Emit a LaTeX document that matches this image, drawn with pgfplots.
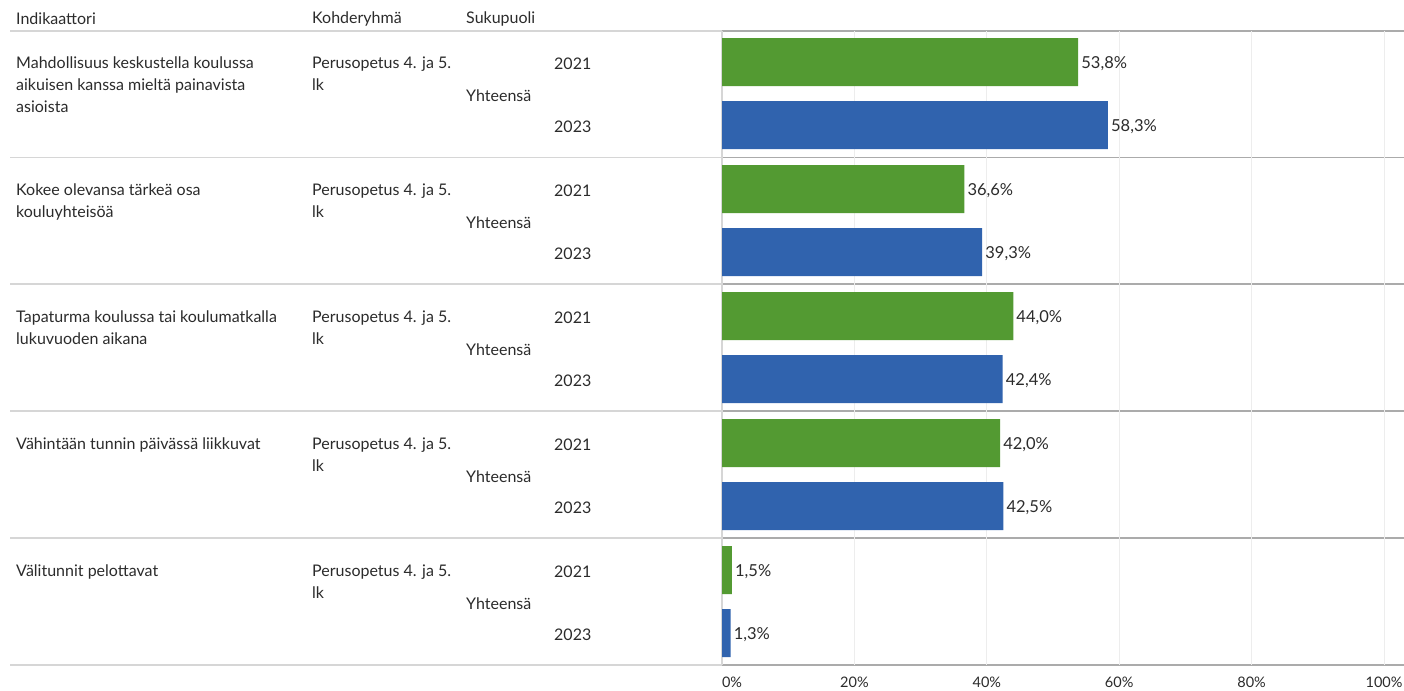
\documentclass[border=0pt]{standalone}
\usepackage{fontspec}
\setmainfont{Lato}
\usepackage{pgfplots}
\pgfplotsset{compat=1.18}

\definecolor{barA}{HTML}{539A32}
\definecolor{barB}{HTML}{3063AE}
\definecolor{sepL}{HTML}{D6D6D6}
\definecolor{sepR}{HTML}{ABABAB}
\definecolor{txt}{HTML}{2B2B2B}

\begin{document}
\begin{tikzpicture}[x=1pt,y=1pt,font=\fontsize{16}{22}\selectfont,text=txt]
\useasboundingbox (0,0) rectangle (1404,-690);

% header
\node[anchor=west, inner sep=0pt] at (16,-19) {Indikaattori};
\node[anchor=west, inner sep=0pt] at (312,-19) {Kohderyhmä};
\node[anchor=west, inner sep=0pt] at (466,-19) {Sukupuoli};

% separators
\foreach \yy in {31,157.5,284,411,538,665} {
  \draw[sepL, line width=1.6pt] (10,-\yy) -- (722,-\yy);
  \draw[sepR, line width=1.2pt] (722,-\yy) -- (1404,-\yy);
}

% row labels
\foreach \k/\lab in {0/{Mahdollisuus keskustella koulussa\\aikuisen kanssa mieltä painavista\\asioista},
                    1/{Kokee olevansa tärkeä osa\\kouluyhteisöä},
                    2/{Tapaturma koulussa tai koulumatkalla\\lukuvuoden aikana},
                    3/{Vähintään tunnin päivässä liikkuvat},
                    4/{Välitunnit pelottavat}} {
  \pgfmathsetmacro{\yt}{-62-127*\k}
  \node[anchor=north west, align=left, inner sep=0pt] at (16,\yt+5) {\lab};
  \node[anchor=north west, align=left, inner sep=0pt] at (312,\yt+5) {Perusopetus 4. ja 5.\\lk};
  \node[anchor=west, inner sep=0pt] at (466,\yt-34) {Yhteensä};
  \node[anchor=west, inner sep=0pt] at (554,\yt-2) {2021};
  \node[anchor=west, inner sep=0pt] at (554,\yt-65) {2023};
}

\begin{axis}[
    at={(722pt,-665pt)}, anchor=south west,
    width=662pt, height=634pt, scale only axis,
    xmin=0, xmax=100,
    ymin=31, ymax=665, y dir=reverse,
    xbar, bar width=48, bar shift=0pt,
    axis x line*=bottom, axis y line*=left,
    axis line style={draw=sepL, line width=1.2pt},
    x axis line style={draw=none},
    ytick=\empty,
    xtick={0,20,40,60,80,100},
    xticklabels={\makebox[0pt][l]{0\%},20\%,40\%,60\%,80\%,100\%},
    xtick style={draw=none},
    xticklabel style={font=\fontsize{14.5}{16}\selectfont, text=txt, yshift=-8pt},
    xmajorgrids, grid style={draw=black!7, line width=0.8pt},
    /pgf/number format/assume math mode=true,
    nodes near coords={\pgfmathprintnumber[fixed,fixed zerofill,precision=1,use comma]{\pgfplotspointmeta}\%},
    nodes near coords style={anchor=west, font=\fontsize{16.5}{18}\selectfont, text=txt, inner sep=3pt, yshift=-1.5pt},
    point meta=x,
    clip=false,
  ]
  \addplot[fill=barA, draw=none] coordinates {
    (53.8,62) (36.6,189) (44.0,316) (42.0,443) (1.5,570)
  };
  \addplot[fill=barB, draw=none] coordinates {
    (58.3,125) (39.3,252) (42.4,379) (42.5,506) (1.3,633)
  };
\end{axis}
\end{tikzpicture}
\end{document}
